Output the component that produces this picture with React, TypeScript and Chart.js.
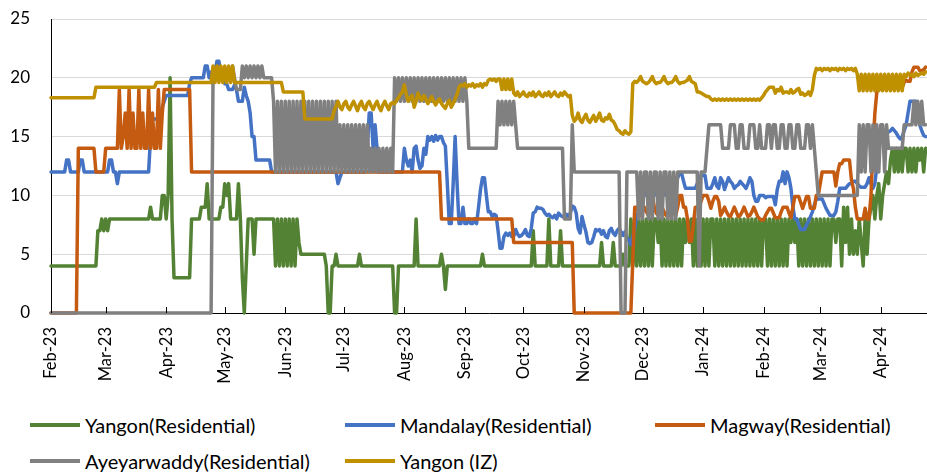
import React, { useEffect, useRef } from 'react';
import { Chart, registerables } from 'chart.js';

Chart.register(...registerables);

// ---------- data (daily values, Feb 1 2023 .. Apr 23 2024) ----------
// A part is either a single day's value or [value, number of consecutive days]
type Part = number | [number, number];
function build(parts: Part[]): number[] {
  const out: number[] = [];
  for (const p of parts) {
    if (Array.isArray(p)) {
      for (let i = 0; i < p[1]; i++) out.push(p[0]);
    } else out.push(p);
  }
  return out;
}

const monthTicks = [0, 28, 59, 89, 120, 150, 181, 212, 242, 273, 303, 334, 365, 394, 425];
const monthLabels = ['Feb-23', 'Mar-23', 'Apr-23', 'May-23', 'Jun-23', 'Jul-23', 'Aug-23', 'Sep-23', 'Oct-23', 'Nov-23', 'Dec-23', 'Jan-24', 'Feb-24', 'Mar-24', 'Apr-24'];

const seriesNames = ['Yangon(Residential)', 'Mandalay(Residential)', 'Magway(Residential)', 'Ayeyarwaddy(Residential)', 'Yangon (IZ)'];
const seriesColors = ['#548235', '#4472C4', '#C55A11', '#808080', '#BF9000'];

const yangonResidential = build([
  [4, 24], [7, 2], 8, 7, 8, 7, 8, [8, 20], 9, [8, 5], 10, 10, 8, 10, 20, 8, [3, 9], [8, 5], [9, 3], 11, [8, 6], 9, 9, 11, 10, 11, [8, 4], 11, 8, 3, 0, 4, [8, 3], 5, [8, 10],
  4, 8, 4, 8, 4, 8, 4, 8, 4, 8, 4, 8,
  6, [5, 13], 4, 0, 0, 4, 4, 5, [4, 11], 5, [4, 17], 0, 0, [4, 9], 8, [4, 12], 5, 4, 2, [4, 18], 5, [4, 25], 7, [4, 7], 8, [4, 5], 7, [4, 20], 6, [4, 5], 6, [4, 4], 5, [4, 3],
  8, 4, 8, 4, 8, 4, 8, 4, 8, 4, 8, 4,
  8, 8, 6,
  8, 4, 8, 4, 8, 4, 8, 4, 8, 4, 8, 4,
  8, 6, 8, 6, 8,
  4, 8, 4, 8, 4, 8, 4, 8, 4,
  8, 8,
  4, 8, 4, 8, 4, 8, 4, 8, 4, 8, 4, 8, 4, 8, 4, 8, 4, 8, 4, 8, 4, 8, 4, 8, 4,
  8, 8,
  4, 8, 4, 8, 4, 8, 4, 8, 4, 8, 4, 8,
  6, 8, 6, 8,
  4, 8, 4, 8, 4, 8, 4, 8, 4, 8, 4, 8, 4, 8, 4, 8, 4, 8,
  8, 6, 8, 8,
  4, 9, 6, 9, 5,
  8, 5, 7, 5, 8, 6, 4, 8, 5, 8,
  9, 10, 8, 10, 11, 8, 10, 11, 12, 11, 13, 14,
  12, 14, 12, 14, 12, 14, 14, 12, 14, 12, 14, 12, 14, 13, 14, 12, 14,
]);

const mandalayResidential = build([
  [12, 8], 13, 13, [12, 5], 13, 13, [12, 13], 13, 13, 12, 12, 11, [12, 15],
  12, 15, 16.5, 16.5, 16.5, 16.5, 17, 17.5, 18, [18.5, 12], 19.5, [20, 7], 21, 21, 20, 20.5, 20.5, 20.5, 21.4, 21.4, 20.5, 20, 19.5, 19.5, 19, 19, 19, 19.4, 19, 18, 18, 18, 19.2, 18.5, 18, 17, 15, 15, [13, 8],
  [12, 34], 11, 11.5, [12, 13], 14, 17, 17, 14, 16, 14, [12, 13],
  14, 13, 12.5, 13, 12, 14, 14.2, 13, 12.3, 12.5,
  14, 13.5, 15, 14.7, 15, 14.6, 15.1, 14.7, 15, 15,
  14.5, 14.2, 11, 7.6, 7.6, 11, 15, 11, 7.6, 7.6,
  9, 7.6, 7.6, 8, 7.6, 7.6, 8, 7.6, 9, 10.5,
  11.5, 11.5, 10, 8.6, 8.6, 8.2, 8.4, 8.3, 7, 5.5,
  5.5, 6.5, 6.8, 6.6, 6.8, 6.5, 6.5, 7.1, 6.7, 6.5,
  6.6, 6.8, 7.1, 6.6, 6.5, 7.2, 8.5, 8.6, 9, 8.9,
  8.9, 8.8, 8.5, 8.3, 8.4, 8.2, 8.1, 8.3, 8, 8.5,
  8.3, 8.2, 8.1, 8.4, 8.1, 8.5, 9.1, 9, 8.5, 7.2,
  6.8, 8.2, 7.5, 6.9, 6, 5.9, 6, 6.5, 7.1, 7,
  7.1, 6.7, 7, 6.5, 6.4, 7, 7.2, 6.8, 6.6, 7,
  7.2, 6.9, 6.6, 6.9, 6.4, 6.2, 5.8, 6.5, 7.2, 8.3,
  8.6, 9.5,
  10, 10.5, 10, 9.8, 10.5, 10.3, 10, 10.6, 10.2, 10, 10.5, 10.4, 10, 10.6, 10.2, 10.4, 10.8, 11, 11.5,
  11.9, 11.9, 11.2, [10.6, 6], 11, 11.5, 11.7, 11.7, 11.7, 10.6, 10.6, 10.6,
  11, 11.5, 10.8, 10.6, 11.5, 11.2, 10.5, 11, 11.5, 11.2, 11, 10.6, 10.8, 10.9, 11.2, 11, 10.8, 10.6, 11, 11.5, 11.2, 10, 9.5, 9.5, 10, 10, 10, 9.8, 9.9, 9.9, 9.9, 9.9,
  9.2, 10.5, 11.2, 11.2, 12, 11, 12, 11.5, 10.6, 9,
  8, 8, 7.5, 7.1, 7.1, 7.1, 7.5, 7.8, 8.2, 8.6,
  9.2, 9.7, 9.7, 9.7, 9.7, 9.3, 8.9, 8.6, 8.3, 8.3,
  8.3, 8.6, 9.5, 10.6, 10.6, 10.6, 10.6, 10.8, 11, 11,
  11.2, 11.2, 11, 10.8, 10.7, 10.7, 10.7, 11, 11.5, 11,
  10.6, 11, 12.5, 14, 15, 15.4, 15, 15.4, 15.4, 15.5,
  15.7, 15.5, 15.3, 15, 14.8, 15, 15.5, 16, 17, 18,
  18, 18, 18, 17, 16, 15.5, 15.1, 15,
]);

const magwayResidential = build([
  [0, 14], [14, 9], [12, 5], [14, 6],
  14, 19, 14, 15, 17, 14, 19, 14, 17, 14, 14, 19, 14, 17, 14, 14, 19, 14, 17, 14, 14, 19, 14, 17,
  [19, 14], [12, 128], [8, 37], [6, 31], [0, 30], 4.5, 9,
  9, 8.6, 8.3, 8.6, 9, 8.6, 8.3, 8.6, 10, 9, 8.5, 8.3, 8.6, 9, 8.6, 8.3, 8.2, 8.6, 9, 8.6, 8.3, 9,
  10, 10, 9, 9, 8, 6.1, 6.1, 7.5, 9, 9, 9, 9.5, 10, 10, 10, 9.5, 8.9, 9.5, 9.9, 9.9, 9.5, 8.3,
  8.6, 9, 8.6, 8.3, 8.2, 8.6, 9, 8.6, 8.2, 8.3, 8.6, 9, 8.6, 8.2, 8.3, 8.6, 9, 8.6, 8.2, 8.0,
  7.9, 7.9, 8.3,
  8.6, 8.9, 8.9, 8.5, 8.1, 8.1, 8.1, 8.6, 9, 9,
  9, 8.5, 8.1, 9, 9.9, 9.9, 9.9, 9.4, 8.9, 9.4,
  9.9, 9.9, 8.9, 8.9, 8.9, 10, 10, 11, 12, 12,
  12, 12, 12, 12, 12, 10.8, 12, 12.7, 12.7, 13,
  13, 13, 13, 11.3, 10.6, 9, 8, 8, 8, 8,
  8.9, 8, 8, 10, 14, 17, 18.8, 19, 19.1, 19.3,
  19.1, 19.1, 19.2, 19, 19.2, 19.1, 19.2, 19.1, 19.2, 19.2,
  19.6, 19.8, 19.7, 19.7, 20.5, 20.9, 20.9, 20.9, 20.6, 20.6,
  20.7, 20.9,
]);

const ayeyarwaddyResidential = build([
  [0, 83], [20, 10], 21, 20, [19, 3],
  21, 20, 21, 20, 21, 20, 21, 20, 21, 20, 21, 20,
  [20, 4], 18,
  12, 18, 12, 18, 12, 18, 12, 18, 12, 18, 12, 18, 12, 18, 12, 18,
  12, 18, 12, 18, 12, 18, 12, 18, 12, 18, 12, 18, 12, 18, 12, 18,
  12, 16, 12, 16, 12, 16, 12, 16, 12, 16, 12, 16, 12, 16, 12, 16, 12,
  14, 12, 14, 12, 14, 12, 14, 12, 14, 12, 14, 12,
  20, 18, 20, 18, 20, 18, 20, 18, 20, 18, 20, 18, 20, 18, 20, 18, 20, 18, 20,
  18, 20, 18, 20, 18, 20, 18, 20, 18, 20, 18, 20, 18, 20, 18, 20, 18, 20, 18,
  [14, 15],
  18, 16, 18, 16, 18, 16, 18, 16, 18, 16,
  [14, 24], [8, 4], 16, [12, 24], [0, 3], [12, 6],
  8, 12, 8, 12, 12, 8, 12, 8, 12, 12, 8, 12, 8, 12, 12, 8, 12, 8, 12, 8, 12,
  [12, 10], 4, [12, 3], 14,
  [16, 7], [14, 4], [16, 3], 14, 14, 16, 16, 14, 14, 14, 16, 16, 16, 14, 14, 16, 14, 14, 14, 16, 16, 14, 16, 16, 14, 14, 16, 16, 14, 14, 16, 16, 14, 14, 16, 16, 14, 14, 14, 16, 16, 14, 16,
  14, 12, 10, [10, 20],
  16, 12, 16, 12, 16, 16, 12, 16, 12, 16, 12, 16, 16, 12, 16,
  [14, 8], [16, 4],
  16, 18, 16, 18, 16, 18, 16, 16,
]);

const yangonIZ = build([
  [18.3, 23], [19.2, 31], [19.6, 29],
  21, 19.6, 21, 19.6, 21, 19.6, 21, 19.6, 21, 19.6, 21,
  [19.6, 25], [18.8, 11], [16.5, 15],
  17.2, 17.6, 18, 17.5, 17.3, 17.8, 18, 17.5, 17.3, 17.7,
  18, 17.6, 17.2, 17.7, 18, 17.5, 17.3, 17.8, 18, 17.6,
  17.3, 17.7, 18, 17.5, 17.2, 17.7, 18, 17.6, 17.3, 17.8, 17.9,
  17.8, 18.1, 18.3, 18.6, 18.8, 19.4, 18.6, 18, 18.3, 18.5,
  17.5, 18, 18.7, 18.3, 18.1, 18.5, 18.2, 17.8, 18.1, 18.4,
  18, 17.7, 18, 18.2, 17.8, 17.6, 17.4, 17.8, 18.1, 17.5,
  17.8, 18.2, 18.6,
  19.2, 19.4, 19.3, 19.5, 19.2, 19.4, 19.3, 19.5, 19.2, 19.4, 19.3, 19.5, 19.2, 19.5, 19.4,
  19.8, 19.9, 19.8, 19.9, 19.7, 19.9,
  19.9, 19, 19.9, 19, 19.9, 19, 19.9,
  18.7, 18.5, 18.8, 18.4, 18.6, 18.8, 18.5, 18.4, 18.7, 18.5,
  18.8, 18.4, 18.6, 18.8, 18.5, 18.4, 18.7, 18.5, 18.8, 18.4,
  18.6, 18.8, 18.5, 18.4, 18.7, 18.5, 18.8, 18.6, 18.4, 18.5,
  16.8, 16.3, 16.5, 17, 16.4, 16.2, 16.6, 16.9, 16.4, 16.2,
  16.5, 16.8, 16.3, 16.6, 17, 16.4, 16.3, 16.6, 16.5, 16.9,
  16.4, 16.3,
  16, 15.6, 15.5, 15.3, 15.2, 15.5, 15.3, 15.2, 15.4,
  19.5, 19.7, 19.6, 19.8, 20.1, 19.7, 19.6, 19.5, 19.6, 19.8,
  20.1, 19.7, 19.5, 19.6, 19.6, 19.8, 20.1, 19.7, 19.5, 19.6,
  19.6, 19.8, 20.1, 19.7, 19.5, 19.6, 19.6, 19.7, 19.8, 20.1,
  19.7, 19.6, 19.5,
  18.8, 18.8, 18.7, 18.6, 18.5, 18.4, 18.4,
  18.2, 18.1, 18.2, 18.1, 18.2, 18.1, 18.2, 18.1, 18.2, 18.1, 18.2, 18.1, 18.2,
  18.1, 18.2, 18.1, 18.2, 18.1, 18.2, 18.1, 18.2, 18.1, 18.2, 18.1, 18.2, 18.1,
  18.3, 18.5, 18.8, 19, 19.2, 19.2,
  19.2, 18.7, 19, 18.9, 19.2, 18.7, 18.8, 18.8, 18.7, 19,
  18.7, 18.8, 19, 19.1, 18.6, 18.7, 18.5, 18.6, 18.8, 18.5, 19,
  20.2, 20.8, 20.7, 20.8, 20.6, 20.8, 20.7, 20.8, 20.6, 20.8, 20.7,
  20.8, 20.6, 20.8, 20.7, 20.8, 20.6, 20.8, 20.7, 20.8, 20.6, 20.8,
  20.3, 18.9, 20.3, 18.9, 20.3, 18.9, 20.3, 18.9, 20.3, 18.9, 20.3, 18.9,
  20.3, 18.9, 20.3, 18.9, 20.3, 18.9, 20.3, 18.9, 20.3, 18.9, 20.3, 18.9,
  20.3, 20.1, 20.4, 20.2, 20.3, 20.1, 20.4, 20.2, 20.3, 20.4, 20.3, 20.5,
]);

const seriesValues = [yangonResidential, mandalayResidential, magwayResidential, ayeyarwaddyResidential, yangonIZ];
const dayIndex = yangonResidential.map((_, i) => i);

const FONT = 'Lato, "Open Sans", "DejaVu Sans", sans-serif';

const innerTicks = {
  id: 'innerTicks',
  afterDraw(chart: any) {
    const xs = chart.scales.x;
    const { ctx, chartArea } = chart;
    ctx.save();
    ctx.strokeStyle = '#000';
    ctx.lineWidth = 1;
    for (const t of xs.ticks) {
      const px = Math.round(xs.getPixelForValue(t.value)) + 0.5;
      ctx.beginPath();
      ctx.moveTo(px, chartArea.bottom);
      ctx.lineTo(px, chartArea.bottom - 6);
      ctx.stroke();
    }
    ctx.restore();
  },
};

export default function App() {
  const canvasRef = useRef<HTMLCanvasElement | null>(null);

  useEffect(() => {
    if (!canvasRef.current) return;
    const chart = new Chart(canvasRef.current, {
      type: 'line',
      data: {
        labels: dayIndex,
        datasets: seriesNames.map((name, i) => ({
          label: name,
          data: seriesValues[i],
          borderColor: seriesColors[i],
          backgroundColor: seriesColors[i],
          borderWidth: 3.5,
          pointRadius: 0,
          tension: 0,
          borderJoinStyle: 'round' as const,
          borderCapStyle: 'round' as const,
          order: seriesNames.length - i,
          clip: 4,
        })),
      },
      options: {
        animation: false,
        responsive: false,
        devicePixelRatio: 1,
        layout: { padding: { top: 19, left: 0, right: 0, bottom: 0 } },
        plugins: { legend: { display: false }, tooltip: { enabled: false } },
        scales: {
          x: {
            type: 'linear',
            min: 0,
            max: 448.7,
            afterBuildTicks: (s: any) => {
              s.ticks = monthTicks.map((v) => ({ value: v }));
            },
            afterFit: (s: any) => {
              s.height = 82;
            },
            ticks: {
              autoSkip: false,
              maxRotation: 90,
              minRotation: 90,
              padding: 14,
              color: '#000',
              font: { family: FONT, size: 16.5 },
              callback: (v: any) => {
                const k = monthTicks.indexOf(Number(v));
                return k >= 0 ? monthLabels[k] : '';
              },
            },
            grid: { display: false, drawTicks: false },
            border: { display: true, color: '#000', width: 1 },
          },
          y: {
            min: 0,
            max: 25,
            afterFit: (s: any) => {
              s.width = 51;
              s.paddingTop = 0;
              s.paddingBottom = 0;
            },
            ticks: { stepSize: 5, padding: 21, color: '#000', font: { family: FONT, size: 17 } },
            grid: { color: '#d9d9d9', lineWidth: 1, drawTicks: false },
            border: { display: true, color: '#000', width: 1 },
          },
        },
      },
      plugins: [innerTicks],
    });
    return () => chart.destroy();
  }, []);

  const legendPos = [
    { left: 30, top: 425 },
    { left: 345, top: 425 },
    { left: 655, top: 425 },
    { left: 30, top: 461 },
    { left: 345, top: 461 },
  ];

  return (
    <div style={{ position: 'fixed', left: 0, top: 0, width: 927, height: 472, background: '#fff', overflow: 'hidden' }}>
      <canvas ref={canvasRef} width={927} height={395} style={{ position: 'absolute', left: 0, top: 0 }} />
      {seriesNames.map((name, i) => (
        <div
          key={name}
          style={{
            position: 'absolute',
            left: legendPos[i].left,
            top: legendPos[i].top - 12,
            height: 24,
            display: 'flex',
            alignItems: 'center',
            whiteSpace: 'nowrap',
            fontFamily: FONT,
            fontSize: 20,
            color: '#000',
          }}
        >
          <span style={{ display: 'inline-block', width: 50, height: 4, background: seriesColors[i], marginRight: 5 }} />
          <span>{name}</span>
        </div>
      ))}
    </div>
  );
}
